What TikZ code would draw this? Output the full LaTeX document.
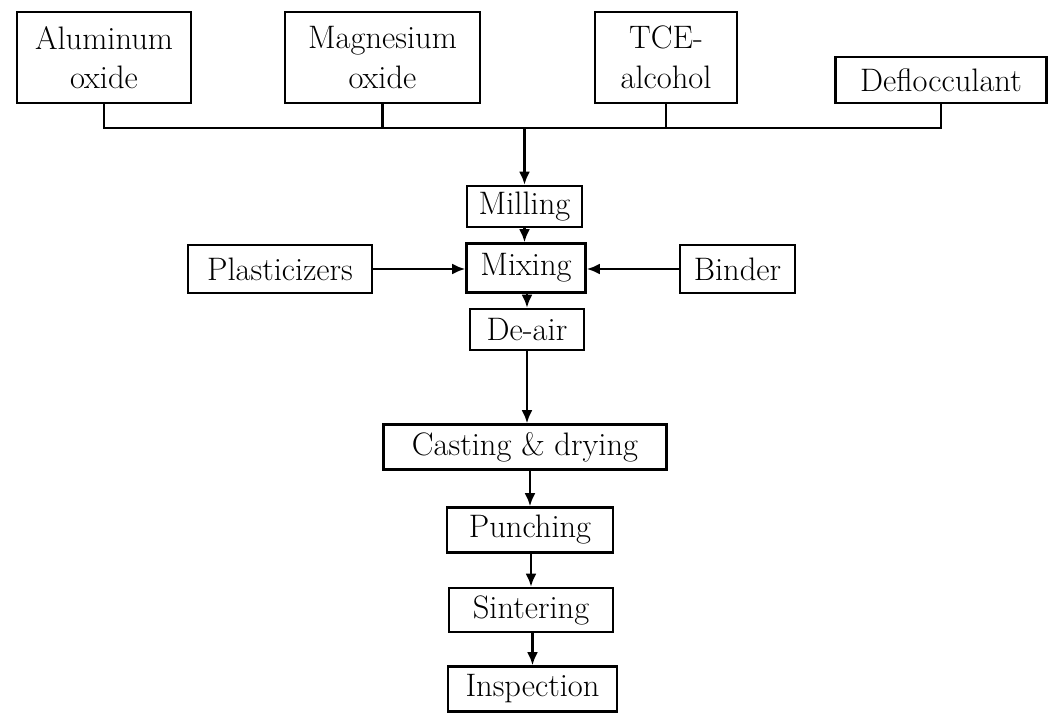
\documentclass[tikz,border=0pt]{standalone}
\usepackage{amsmath,amssymb}
\usepackage{tikz}
\usetikzlibrary{arrows.meta}

\begin{document}
\begin{tikzpicture}[
  box/.style={draw, line width=1.5pt, inner sep=1pt, align=center,
    font=\fontsize{18.5}{22.5}\selectfont},
  feed/.style={line width=1.4pt},
  flow/.style={line width=1.4pt, -{Latex[length=2.6mm,width=2.2mm]}}]
\useasboundingbox (0,0) rectangle (21,-14.26);
% raw materials
\node[box, minimum width=3.48cm, minimum height=1.82cm] (alu) at (2.08,-1.15) {Aluminum\\oxide};
\node[box, minimum width=3.9cm, minimum height=1.82cm] (mag) at (7.65,-1.15) {Magnesium\\oxide};
\node[box, minimum width=2.84cm, minimum height=1.82cm] (tce) at (13.32,-1.15) {TCE-\\alcohol};
\node[box, minimum width=4.22cm, minimum height=0.92cm] (defl) at (18.82,-1.6) {Deflocculant};
\coordinate (hub) at (10.49,-2.56);
% process chain
\node[box, minimum width=2.3cm, minimum height=0.82cm] (milling) at (10.49,-4.13) {Milling};
\node[box, minimum width=2.38cm, minimum height=0.98cm] (mixing) at (10.52,-5.36) {Mixing};
\node[box, minimum width=3.68cm, minimum height=0.96cm] (plast) at (5.6,-5.38) {Plasticizers};
\node[box, minimum width=2.3cm, minimum height=0.96cm] (binder) at (14.75,-5.38) {Binder};
\node[box, minimum width=2.28cm, minimum height=0.82cm] (deair) at (10.54,-6.59) {De-air};
\node[box, minimum width=5.66cm, minimum height=0.9cm] (casting) at (10.5,-8.94) {Casting \& drying};
\node[box, minimum width=3.32cm, minimum height=0.9cm] (punching) at (10.6,-10.6) {Punching};
\node[box, minimum width=3.28cm, minimum height=0.88cm] (sintering) at (10.62,-12.2) {Sintering};
\node[box, minimum width=3.38cm, minimum height=0.9cm] (inspection) at (10.65,-13.78) {Inspection};
% connectors
\draw[feed] (alu.south) |- (hub) -| (defl.south);
\draw[feed] (mag.south) -- (mag.south |- hub);
\draw[feed] (tce.south) -- (tce.south |- hub);
\draw[flow] (hub) -- (milling.north);
\draw[flow] (milling.south) -- (milling.south |- mixing.north);
\draw[flow] (plast.east) -- (plast.east -| mixing.west);
\draw[flow] (binder.west) -- (binder.west -| mixing.east);
\draw[flow] (deair.north |- mixing.south) -- (deair.north);
\draw[flow] (deair.south) -- (deair.south |- casting.north);
\draw[flow] (punching.north |- casting.south) -- (punching.north);
\draw[flow] (sintering.north |- punching.south) -- (sintering.north);
\draw[flow] (inspection.north |- sintering.south) -- (inspection.north);
\end{tikzpicture}
\end{document}
